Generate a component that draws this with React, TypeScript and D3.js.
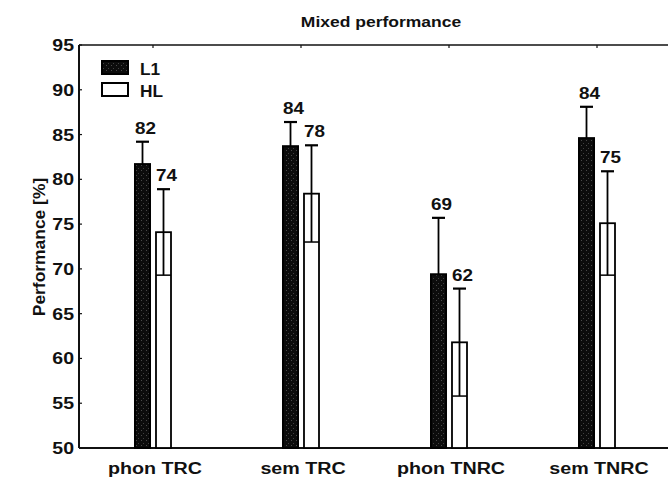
import React, { useRef, useEffect } from 'react';
import * as d3 from 'd3';

const categories = ['phon TRC', 'sem TRC', 'phon TNRC', 'sem TNRC'];
const series = ['L1', 'HL'];
const l1Means = [81.7, 83.7, 69.4, 84.6];
const l1Sd = [2.5, 2.7, 6.3, 3.5];
const hlMeans = [74.1, 78.4, 61.8, 75.1];
const hlSd = [4.8, 5.4, 6.0, 5.8];
const l1Labels = ['82', '84', '69', '84'];
const hlLabels = ['74', '78', '62', '75'];
const yTicks = [50, 55, 60, 65, 70, 75, 80, 85, 90, 95];
const title = 'Mixed performance';
const yTitle = 'Performance [%]';

const FONT = '"Liberation Sans", Arial, sans-serif';

type Sel = d3.Selection<any, unknown, null, undefined>;

// scanned figure text is wide, so stretch it along the reading direction
const addText = (
  parent: Sel,
  x: number,
  y: number,
  str: string,
  opts: { size?: number; sx?: number; anchor?: string; rotate?: number } = {}
) => {
  const { size = 16, sx = 1.2, anchor = 'middle', rotate = 0 } = opts;
  parent.append('g')
    .attr('transform', `translate(${x},${y}) rotate(${rotate}) scale(${sx},1)`)
    .append('text')
    .attr('text-anchor', anchor)
    .attr('font-family', FONT)
    .attr('font-weight', 'bold')
    .attr('font-size', size)
    .attr('fill', '#111')
    .text(str);
};

const MixedPerformanceChart: React.FC<{ width?: number; height?: number }> = ({
  width = 668,
  height = 479,
}) => {
  const ref = useRef<SVGSVGElement>(null);

  useEffect(() => {
    if (!ref.current) return;
    const svg = d3.select(ref.current);
    svg.selectAll('*').remove();

    const left = 79, right = 671, top = 45, bottom = 448;

    const x = d3.scaleBand<string>().domain(categories).range([left, right]).padding(0);
    const inner = d3.scaleBand<string>().domain(series).range([-19, 19]).paddingInner(0.19);
    const y = d3.scaleLinear().domain([50, 95]).range([bottom, top]);

    const defs = svg.append('defs');
    const pat = defs.append('pattern')
      .attr('id', 'speckle')
      .attr('patternUnits', 'userSpaceOnUse')
      .attr('width', 5)
      .attr('height', 5);
    pat.append('rect').attr('width', 5).attr('height', 5).attr('fill', '#0c0c0c');
    pat.append('rect').attr('x', 1).attr('y', 0).attr('width', 1).attr('height', 1).attr('fill', '#4a4a4a');
    pat.append('rect').attr('x', 3).attr('y', 3).attr('width', 1).attr('height', 1).attr('fill', '#404040');

    // title
    addText(svg, 381, 27, title, { size: 15.5, sx: 1.13 });

    // frame
    svg.append('line').attr('x1', left).attr('x2', width + 5).attr('y1', top).attr('y2', top)
      .attr('stroke', '#111').attr('stroke-width', 1.5);
    svg.append('line').attr('x1', left).attr('x2', width + 5).attr('y1', bottom).attr('y2', bottom)
      .attr('stroke', '#111').attr('stroke-width', 2);
    svg.append('line').attr('x1', left).attr('x2', left).attr('y1', top).attr('y2', bottom)
      .attr('stroke', '#111').attr('stroke-width', 2);

    // y ticks (inward) + labels
    yTicks.forEach(t => {
      svg.append('line').attr('x1', left).attr('x2', left + 3).attr('y1', y(t)).attr('y2', y(t))
        .attr('stroke', '#111').attr('stroke-width', 1.2);
      addText(svg, 74, y(t) + 6, String(t), { anchor: 'end', sx: 1.22 });
    });

    // top ticks at category centers + category labels
    categories.forEach(c => {
      const cx = x(c)! + x.bandwidth() / 2;
      svg.append('line').attr('x1', cx).attr('x2', cx).attr('y1', top).attr('y2', top + 3)
        .attr('stroke', '#111').attr('stroke-width', 1.2);
      addText(svg, cx + 2, 474, c, { sx: 1.23 });
    });

    addText(svg, 45, 247, yTitle, { rotate: -90, sx: 1.09 });

    const groups = [
      { key: 'L1', means: l1Means, sd: l1Sd, labels: l1Labels },
      { key: 'HL', means: hlMeans, sd: hlSd, labels: hlLabels },
    ];

    groups.forEach(g => {
      const dark = g.key === 'L1';
      categories.forEach((c, i) => {
        const bx = x(c)! + x.bandwidth() / 2 + inner(g.key)!;
        const bw = inner.bandwidth();
        const cx = bx + bw / 2;
        const v = g.means[i];

        svg.append('rect')
          .attr('x', bx + 1)
          .attr('y', y(v))
          .attr('width', bw - 2)
          .attr('height', y(50) - y(v))
          .attr('fill', dark ? 'url(#speckle)' : '#fff')
          .attr('stroke', '#000')
          .attr('stroke-width', dark ? 2 : 1.8);

        const hi = y(v + g.sd[i]);
        const lo = y(v - g.sd[i]);
        const cap = 13;
        const eb = svg.append('g').attr('stroke', '#000').attr('stroke-width', 1.8);
        // lower half is lost inside the dark bars
        eb.append('line').attr('x1', cx).attr('x2', cx).attr('y1', hi).attr('y2', dark ? y(v) : lo);
        eb.append('line').attr('x1', cx - cap / 2).attr('x2', cx + cap / 2).attr('y1', hi).attr('y2', hi)
          .attr('stroke-width', 2.2);
        if (!dark) {
          eb.append('line').attr('x1', bx + 1).attr('x2', bx + bw - 1).attr('y1', lo).attr('y2', lo)
            .attr('stroke-width', 1.5);
        }

        addText(svg, cx + 3, hi - 8, g.labels[i], { sx: 1.18 });
      });
    });

    // legend
    const legendY = [60, 82];
    groups.forEach((g, i) => {
      svg.append('rect')
        .attr('x', 102).attr('y', legendY[i] + 1)
        .attr('width', 26).attr('height', 13)
        .attr('fill', g.key === 'L1' ? 'url(#speckle)' : '#fff')
        .attr('stroke', '#000').attr('stroke-width', 2);
      addText(svg, 140, legendY[i] + 14.5, g.key, { anchor: 'start', size: 16, sx: 1.08 });
    });
  }, [width, height]);

  return (
    <svg
      ref={ref}
      width={width}
      height={height}
      style={{ position: 'absolute', left: 0, top: 0, background: '#fff' }}
    />
  );
};

export default function App() {
  return <MixedPerformanceChart />;
}
